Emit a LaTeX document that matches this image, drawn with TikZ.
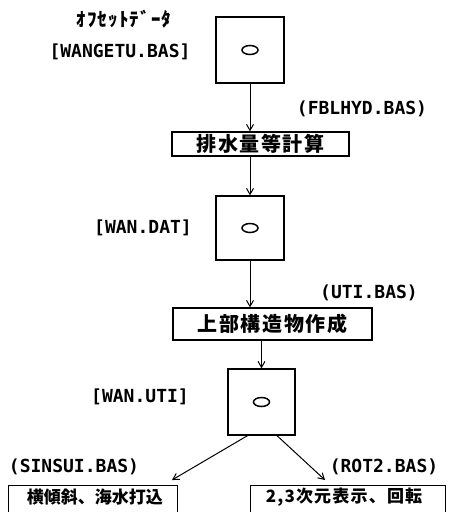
\documentclass[tikz,border=0pt]{standalone}
\usepackage{fontspec}
\usetikzlibrary{arrows.meta,calc,shapes.geometric}
\newfontfamily\jp{Noto Sans CJK JP}
\newfontfamily\lat{DejaVu Sans Mono}
\tikzset{
  filebox/.style={draw,line width=1.3pt,minimum width=68pt,minimum height=66pt,inner sep=0pt},
  procbox/.style={draw,line width=1.3pt,inner sep=0pt,font=\jp\bfseries\fontsize{20}{20}\selectfont\addfontfeature{LetterSpace=8}},
  outbox/.style={draw,line width=1.3pt,inner sep=0pt,anchor=north west},
  outtext/.style={inner sep=0pt,font=\jp\bfseries\fontsize{17}{18}\selectfont},
  lbl/.style={inner sep=0pt,font=\lat\bfseries\fontsize{18}{18}\selectfont},
  oval/.style={draw,line width=1.5pt,ellipse,minimum width=16pt,minimum height=9pt,inner sep=0pt},
  arr/.style={line width=1pt,-{Straight Barb[length=6pt,width=7pt,line width=1pt]}}
}
\begin{document}
\begin{tikzpicture}[x=1pt,y=-1pt]
\clip (0,0) rectangle (450,512);
\fill[white] (0,0) rectangle (450,512);
% file boxes
\node[filebox] (f1) at (250,50) {};
\node[oval] (o1) at (f1.center) {};
\node[filebox,minimum height=64pt] (f2) at (250,228) {};
\node[oval] (o2) at (f2.center) {};
\node[filebox,minimum width=67pt] (f3) at (261.5,402) {};
\node[oval] (o3) at (f3.center) {};
% process boxes
\node[procbox,minimum width=177pt,minimum height=24pt] (p1) at (260.5,144) {排水量等計算};
\node[procbox,minimum width=199pt,minimum height=32pt] (p2) at (272.5,324) {上部構造物作成};
\node[outbox,minimum width=169pt,minimum height=36pt] (p3) at (8,485) {};
\node[outtext] (t3) at (95,497) {横傾斜、海水打込};
\node[outbox,minimum width=195pt,minimum height=36pt] (p4) at (250,485) {};
\node[outtext,font=\jp\bfseries\fontsize{17}{18}\selectfont\addfontfeature{LetterSpace=7}] (t4) at (344,497) {2,3次元表示、回転};
% labels
\node[inner sep=0pt,font=\jp\bfseries\fontsize{19}{19}\selectfont\addfontfeature{LetterSpace=6}] (l0) at (124,19) {ｵﾌｾｯﾄﾃﾞｰﾀ};
\node[lbl] (l1) at (120,52) {[WANGETU.BAS]};
\node[lbl] (l2) at (362,109) {(FBLHYD.BAS)};
\node[lbl] (l3) at (143,228) {[WAN.DAT]};
\node[lbl] (l4) at (369,293) {(UTI.BAS)};
\node[lbl] (l5) at (140,397) {[WAN.UTI]};
\node[lbl] (l6) at (74,467) {(SINSUI.BAS)};
\node[lbl] (l7) at (384,467) {(ROT2.BAS)};
% connectors
\draw[arr] (f1.south) -- (f1.south |- p1.north);
\draw[arr] (p1.south -| f2.north) -- (f2.north);
\draw[arr] (f2.south) -- (f2.south |- p2.north);
\draw[arr] (p2.south -| f3.north) -- (f3.north);
\coordinate (d1) at ($(f3.south)+(-14,0)$);
\coordinate (d2) at ($(f3.south)+(15.5,0)$);
\coordinate (e1) at (172,480);
\coordinate (e2) at (325,480);
\draw[arr] (d1) -- (e1);
\draw[arr] (d2) -- (e2);
\end{tikzpicture}
\end{document}
